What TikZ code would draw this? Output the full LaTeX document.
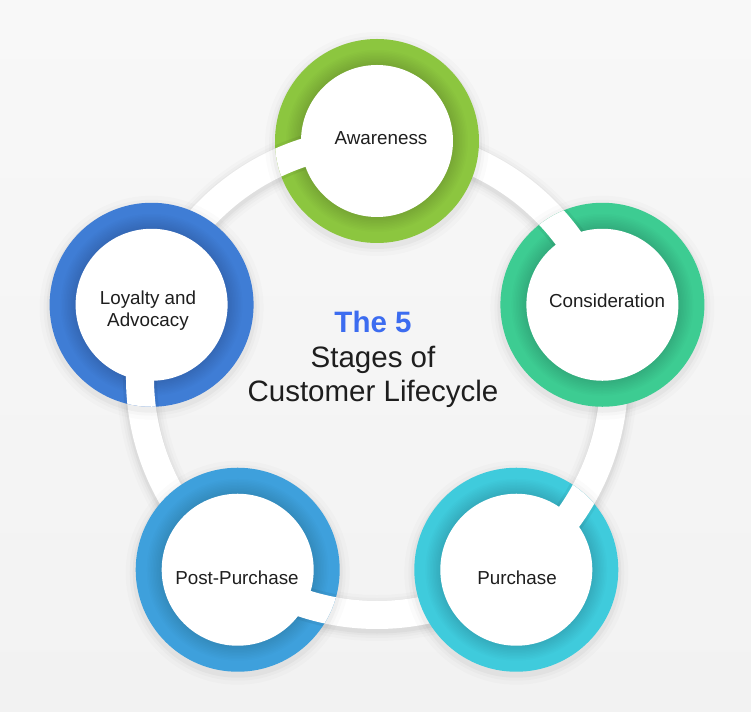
\documentclass[tikz,border=0pt]{standalone}
\usepackage{fontspec}
\setmainfont{Liberation Sans}
\definecolor{bg}{HTML}{F2F2F2}
\definecolor{bgtop}{HTML}{F8F8F8}
\definecolor{cgreen}{HTML}{8CC63F}
\definecolor{cteal}{HTML}{3DCC92}
\definecolor{ccyan}{HTML}{3FCBDC}
\definecolor{cblue}{HTML}{3EA0DC}
\definecolor{cdblue}{HTML}{3F7DD5}
\definecolor{ctitle}{HTML}{3C6CF0}
\definecolor{ctext}{HTML}{1E1E1E}
\begin{document}
\begin{tikzpicture}[x=1pt,y=1pt,
  band/.style={white,line width=28},
  bandglow/.style={black,opacity=#1},
  ringnode/.style={circle,minimum size=204,inner sep=0,fill=#1},
  lbl/.style={font=\fontsize{18.8}{22}\selectfont,text=ctext,inner sep=0,anchor=base},
  ttl/.style={font=\fontsize{29.5}{34}\selectfont,text=ctext,inner sep=0,anchor=base}]
\useasboundingbox (-377,-333) rectangle (374,378);
\shade[top color=bgtop,bottom color=bg] (-377,-333) rectangle (374,378);
% stage positions
\coordinate (aw) at (90:237);
\coordinate (co) at (18:237);
\coordinate (pu) at (-54:237);
\coordinate (pp) at (-126:237);
\coordinate (lo) at (162:237);
% band shadow and band
\foreach \w/\o in {46/0.015,40/0.02,35/0.025,31/0.03}{
  \draw[bandglow=\o,line width=\w] (0,-3) circle (237);
}
\draw[band] (lo) arc[start angle=162,end angle=90,radius=237];
\draw[band] (aw) arc[start angle=90,end angle=18,radius=237];
\draw[band] (co) arc[start angle=18,end angle=-54,radius=237];
\draw[band] (pu) arc[start angle=-54,end angle=-126,radius=237];
\draw[band] (pp) arc[start angle=-126,end angle=-198,radius=237];
% stage circles
\foreach \n/\a/\c [evaluate=\a as \b using \a+72] in {aw/90/cgreen,co/18/cteal,pu/-54/ccyan,pp/-126/cblue,lo/162/cdblue}{
  \foreach \r/\o in {112/0.015,108/0.02,105/0.03}{
    \fill[black,opacity=\o] ([yshift=-3]\n) circle (\r);
  }
  \node[ringnode=\c] (\n ring) at (\n) {};
  \foreach \k in {1,...,10}{
    \fill[black,opacity=0.011] (\n ring.center) circle (76+1.5*\k);
  }
  \begin{scope}
    \clip (\n ring.center) circle (102);
    \draw[bandglow=0.05,line width=34] (\b:237) arc[start angle=\b,end angle=\a,radius=237];
    \fill[white] (\n ring.center) circle (76);
    \draw[band] (\b:237) arc[start angle=\b,end angle=\a,radius=237];
  \end{scope}
}
% labels
\node[lbl] (awt) at (4,233) {Awareness};
\node[lbl] (cot) at (230,70) {Consideration};
\node[lbl] (put) at (140,-206) {Purchase};
\node[lbl] (ppt) at (-140,-206) {Post-Purchase};
\node[lbl] (lot1) at (-229,73) {Loyalty and};
\node[lbl] (lot2) at (-229,51) {Advocacy};
% title
\node[ttl,text=ctitle,font=\fontsize{29.5}{34}\selectfont\bfseries] (t1) at (-4,45) {The 5};
\node[ttl] (t2) at (-4,10) {Stages of};
\node[ttl] (t3) at (-4,-24) {Customer Lifecycle};
\end{tikzpicture}
\end{document}
